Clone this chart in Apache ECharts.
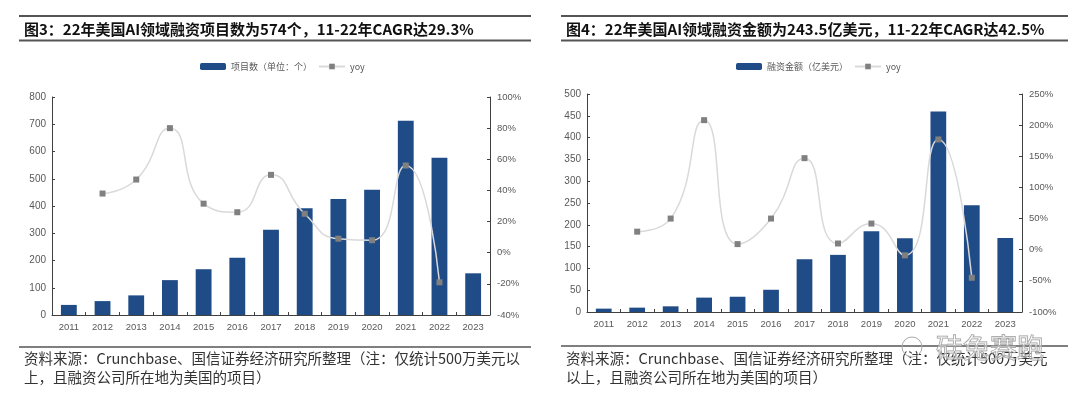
<!DOCTYPE html>
<html>
<head>
<meta charset="utf-8">
<script src="https://cdn.jsdelivr.net/npm/echarts@6/dist/echarts.min.js"></script>
<style>
html,body{margin:0;padding:0;background:#fff;}
#c{width:1080px;height:393px;}
</style>
</head>
<body>
<div id="c"></div>
<script>
// ---- data ----
const years = ['2011','2012','2013','2014','2015','2016','2017','2018','2019','2020','2021','2022','2023'];
const dealCounts = [37, 51, 72, 128, 168, 210, 313, 392, 426, 460, 713, 577, 153];
const dealYoy = [null, 38, 47, 80, 31.5, 26, 50, 25, 9, 8, 56, -19, null];
const fundingAmt = [7.7, 10, 13, 33, 35, 51, 121, 131, 185, 169, 460, 245, 170];
const fundingYoy = [null, 29, 50, 208, 9, 50, 147, 10, 42, -9, 177, -45, null];
const titleLeft = '图3：22年美国AI领域融资项目数为574个，11-22年CAGR达29.3%';
const titleRight = '图4：22年美国AI领域融资金额为243.5亿美元，11-22年CAGR达42.5%';
const barNameLeft = '项目数（单位：个）';
const barNameRight = '融资金额（亿美元）';
const footLeft = ['资料来源：Crunchbase、国信证券经济研究所整理（注：仅统计500万美元以', '上，且融资公司所在地为美国的项目）'];
const footRight = ['资料来源：Crunchbase、国信证券经济研究所整理（注：仅统计500万美元', '以上，且融资公司所在地为美国的项目）'];

const BAR = '#1f4b86';
const LINE = '#d9d9d9';
const MARK = '#808080';
const AX = '#404040';
const LBL = '#595959';
const LF = '"Liberation Sans", Arial, sans-serif';
const CJK = '"Noto Sans CJK SC", sans-serif';

function xAx(gi){
  return {type:'category', gridIndex:gi, data:years,
    axisLine:{lineStyle:{color:AX,width:1}},
    axisTick:{show:true, inside:true, length:3, lineStyle:{color:AX}},
    axisLabel:{color:LBL, fontSize:9.5, fontFamily:LF, margin:7},
    splitLine:{show:false}};
}
function yAx(gi, min, max, interval, pct){
  return {type:'value', gridIndex:gi, min:min, max:max, interval:interval,
    position: pct ? 'right' : 'left',
    axisLine:{show:true, lineStyle:{color:AX,width:1}},
    axisTick:{show:true, inside:true, length:3, lineStyle:{color:AX}},
    axisLabel:{color:LBL, fontSize:pct?9.5:10, fontFamily:LF, margin:pct?7:6, formatter: pct ? '{value}%' : '{value}'},
    splitLine:{show:false}};
}
function barS(name, data, xi, yi){
  return {name:name, type:'bar', xAxisIndex:xi, yAxisIndex:yi, data:data, barWidth:'47%',
    itemStyle:{color:BAR}, animation:false};
}
function lineS(data, xi, yi){
  return {name:'yoy', type:'line', xAxisIndex:xi, yAxisIndex:yi, data:data, smooth:0.55,
    symbol:'rect', symbolSize:6, showSymbol:true, connectNulls:false,
    lineStyle:{color:LINE, width:1.5}, itemStyle:{color:MARK}, animation:false};
}
function hline(x1,x2,y,w){
  return {type:'line', shape:{x1:x1,y1:y,x2:x2,y2:y}, style:{stroke:'#555',lineWidth:w}};
}
function txt(x,y,t,size,weight,color){
  return {type:'text', x:x, y:y, style:{text:t, font:(weight||'normal')+' '+size+'px '+CJK, fill:color||'#222', textVerticalAlign:'middle'}};
}

const chart = echarts.init(document.getElementById('c'), null, {renderer:'canvas'});
chart.setOption({
  backgroundColor:'#fff',
  animation:false,
  grid:[
    {left:52, top:97, width:438, height:218, containLabel:false},
    {left:587, top:94, width:435, height:218, containLabel:false}
  ],
  legend:[
    {left:195, top:57, itemWidth:26, itemHeight:7, itemGap:6, data:[barNameLeft,'yoy'],
     textStyle:{color:LBL, fontSize:9, fontFamily:CJK}, selectedMode:false},
    {left:731, top:57, itemWidth:26, itemHeight:7, itemGap:6, data:[barNameRight,'yoy'],
     textStyle:{color:LBL, fontSize:9, fontFamily:CJK}, selectedMode:false}
  ],
  xAxis:[xAx(0), xAx(1)],
  yAxis:[yAx(0,0,800,100,false), yAx(0,-40,100,20,true), yAx(1,0,500,50,false), yAx(1,-100,250,50,true)],
  series:[
    barS(barNameLeft, dealCounts, 0, 0),
    lineS(dealYoy, 0, 1),
    barS(barNameRight, fundingAmt, 1, 2),
    lineS(fundingYoy, 1, 3)
  ],
  graphic:[
    hline(19,531,16,2), hline(19,531,40.5,2),
    hline(561,1068,16,2), hline(561,1068,40.5,2),
    txt(24,29,titleLeft,15,'bold','#111'),
    txt(566,29,titleRight,15,'bold','#111'),
    hline(19,531,347,1.5), hline(561,1068,346,1.5),
    txt(24,358.5,footLeft[0],14.5,'normal','#333'),
    txt(24,377.5,footLeft[1],14.5,'normal','#333'),
    txt(566,358.5,footRight[0],14.5,'normal','#333'),
    txt(566,377.5,footRight[1],14.5,'normal','#333'),
    {type:'circle', shape:{cx:912,cy:347,r:10}, style:{fill:'rgba(255,255,255,0)', stroke:'#aaa', lineWidth:1}},
    {type:'text', x:936, y:348, style:{text:'硅兔赛跑', font:'normal 27px '+CJK, fill:'rgba(255,255,255,0.4)', stroke:'#999', lineWidth:1, textVerticalAlign:'middle'}}
  ]
});
</script>
</body>
</html>
